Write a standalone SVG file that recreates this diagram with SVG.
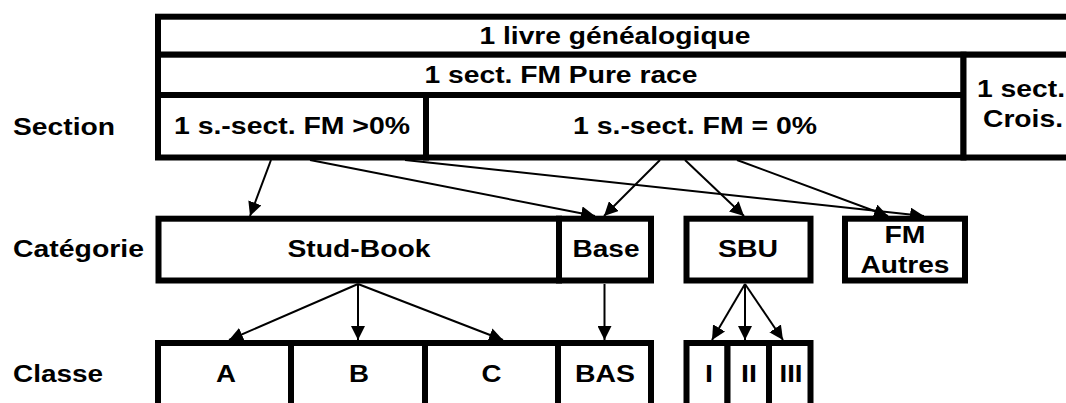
<svg xmlns="http://www.w3.org/2000/svg" width="1066" height="403" viewBox="0 0 1066 403">
<style>
.box{fill:#fff;stroke:#000;stroke-width:6}
.t{font-family:"Liberation Sans",Arial,sans-serif;font-weight:bold;font-size:23px;fill:#000}
.m{text-anchor:middle}
.c{fill:none;stroke:#000;stroke-width:2}
</style>
<defs>
<marker id="ah" markerUnits="userSpaceOnUse" markerWidth="14" markerHeight="14" viewBox="0 0 14 14" refX="14" refY="7" orient="auto">
<path d="M0,0 L14,7 L0,14 Z" fill="#000"/>
</marker>
</defs>
<rect width="1066" height="403" fill="#fff"/>
<g id="labels">
<text class="t" x="13" y="135" textLength="102" lengthAdjust="spacingAndGlyphs">Section</text>
<text class="t" x="13" y="257" textLength="131" lengthAdjust="spacingAndGlyphs">Catégorie</text>
<text class="t" x="13" y="382" textLength="90" lengthAdjust="spacingAndGlyphs">Classe</text>
</g>
<g id="connectors">
<line class="c" x1="271" y1="160" x2="250" y2="216" marker-end="url(#ah)"/>
<line class="c" x1="310" y1="160" x2="595" y2="216" marker-end="url(#ah)"/>
<line class="c" x1="405" y1="160" x2="924" y2="216" marker-end="url(#ah)"/>
<line class="c" x1="660" y1="160" x2="604" y2="216" marker-end="url(#ah)"/>
<line class="c" x1="685" y1="160" x2="744" y2="216" marker-end="url(#ah)"/>
<line class="c" x1="737" y1="160" x2="888" y2="216" marker-end="url(#ah)"/>
<line class="c" x1="358" y1="284" x2="229" y2="340" marker-end="url(#ah)"/>
<line class="c" x1="358" y1="284" x2="358" y2="340" marker-end="url(#ah)"/>
<line class="c" x1="358" y1="284" x2="503" y2="340" marker-end="url(#ah)"/>
<line class="c" x1="604.5" y1="284" x2="604.5" y2="340" marker-end="url(#ah)"/>
<line class="c" x1="745" y1="284" x2="712" y2="340" marker-end="url(#ah)"/>
<line class="c" x1="745" y1="284" x2="745" y2="340" marker-end="url(#ah)"/>
<line class="c" x1="745" y1="284" x2="783" y2="340" marker-end="url(#ah)"/>
</g>
<g id="livre">
<rect class="box" x="158" y="16.7" width="917" height="38"/>
<text class="t m" x="615" y="44" textLength="271" lengthAdjust="spacingAndGlyphs">1 livre généalogique</text>
</g>
<g id="pure-race">
<rect class="box" x="158" y="54.7" width="805.5" height="40.3"/>
<text class="t m" x="561" y="83" textLength="273" lengthAdjust="spacingAndGlyphs">1 sect. FM Pure race</text>
</g>
<g id="ssect-pos">
<rect class="box" x="158" y="95" width="268" height="62.5"/>
<text class="t m" x="292" y="134" textLength="236" lengthAdjust="spacingAndGlyphs">1 s.-sect. FM &gt;0%</text>
</g>
<g id="ssect-zero">
<rect class="box" x="426" y="95" width="537.5" height="62.5"/>
<text class="t m" x="695" y="134" textLength="244" lengthAdjust="spacingAndGlyphs">1 s.-sect. FM = 0%</text>
</g>
<g id="crois">
<rect class="box" x="963.5" y="54.7" width="111.5" height="102.8"/>
<text class="t" x="977" y="97" textLength="88" lengthAdjust="spacingAndGlyphs">1 sect.</text>
<text class="t" x="983" y="127" textLength="80" lengthAdjust="spacingAndGlyphs">Crois.</text>
</g>
<g id="stud-book">
<rect class="box" x="158.5" y="218.7" width="400.5" height="61.8"/>
<text class="t m" x="359" y="257" textLength="143" lengthAdjust="spacingAndGlyphs">Stud-Book</text>
</g>
<g id="base">
<rect class="box" x="559" y="218.7" width="92" height="61.8"/>
<text class="t m" x="606" y="257" textLength="67" lengthAdjust="spacingAndGlyphs">Base</text>
</g>
<g id="sbu">
<rect class="box" x="686.5" y="218.7" width="124" height="61.8"/>
<text class="t m" x="748" y="257" textLength="60" lengthAdjust="spacingAndGlyphs">SBU</text>
</g>
<g id="fm-autres">
<rect class="box" x="845" y="218.7" width="120" height="61.8"/>
<text class="t m" x="905" y="243" textLength="41" lengthAdjust="spacingAndGlyphs">FM</text>
<text class="t m" x="905" y="273" textLength="89" lengthAdjust="spacingAndGlyphs">Autres</text>
</g>
<g id="classe-a">
<rect class="box" x="158" y="343" width="133" height="70"/>
<text class="t m" x="226" y="382" textLength="20" lengthAdjust="spacingAndGlyphs">A</text>
</g>
<g id="classe-b">
<rect class="box" x="291" y="343" width="134" height="70"/>
<text class="t m" x="359" y="382" textLength="20" lengthAdjust="spacingAndGlyphs">B</text>
</g>
<g id="classe-c">
<rect class="box" x="425" y="343" width="133" height="70"/>
<text class="t m" x="491.5" y="382" textLength="20" lengthAdjust="spacingAndGlyphs">C</text>
</g>
<g id="classe-bas">
<rect class="box" x="558" y="343" width="93" height="70"/>
<text class="t m" x="605" y="382" textLength="60" lengthAdjust="spacingAndGlyphs">BAS</text>
</g>
<g id="classe-i">
<rect class="box" x="686.5" y="343" width="41" height="70"/>
<text class="t m" x="709" y="382" textLength="8" lengthAdjust="spacingAndGlyphs">I</text>
</g>
<g id="classe-ii">
<rect class="box" x="727.5" y="343" width="41.5" height="70"/>
<text class="t m" x="749" y="382" textLength="16" lengthAdjust="spacingAndGlyphs">II</text>
</g>
<g id="classe-iii">
<rect class="box" x="769" y="343" width="41.5" height="70"/>
<text class="t m" x="791" y="382" textLength="23" lengthAdjust="spacingAndGlyphs">III</text>
</g>
</svg>
